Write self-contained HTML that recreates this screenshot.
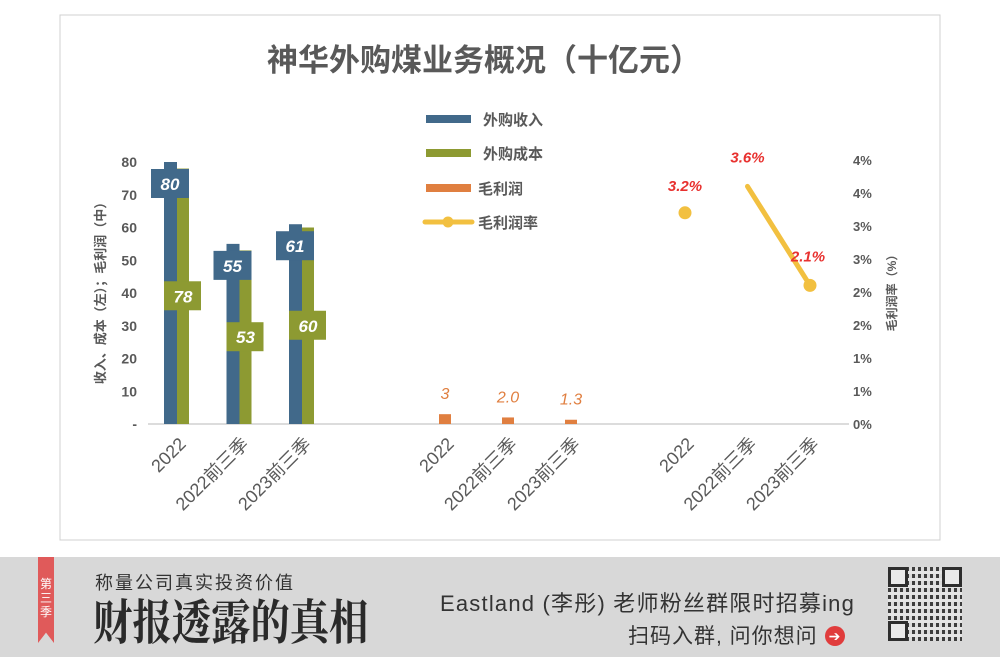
<!DOCTYPE html>
<html><head><meta charset="utf-8"><style>
body{margin:0;width:1000px;height:657px;overflow:hidden;background:#fff;font-family:"Liberation Sans","Noto Sans CJK SC",sans-serif;}
svg text{font-family:"Liberation Sans","Noto Sans CJK SC",sans-serif;}
</style></head><body>
<svg id="c" width="1000" height="657">
<rect x="0" y="0" width="1000" height="657" fill="#fff"/>
<rect x="60" y="15" width="880" height="525" fill="#fff" stroke="#d0d0d0" stroke-width="1"/>
<text x="484" y="71" text-anchor="middle" font-size="31" font-weight="bold" fill="#595959">神华外购煤业务概况（十亿元）</text>
<g>
<rect x="426" y="115" width="45" height="8" fill="#41698a"/>
<text x="483" y="125" font-size="15" font-weight="bold" fill="#595959">外购收入</text>
<rect x="426" y="149" width="45" height="8" fill="#8d9a32"/>
<text x="483" y="159" font-size="15" font-weight="bold" fill="#595959">外购成本</text>
<rect x="426" y="184" width="45" height="8" fill="#e07f40"/>
<text x="478" y="194" font-size="15" font-weight="bold" fill="#595959">毛利润</text>
<line x1="425" y1="222" x2="472" y2="222" stroke="#f2c040" stroke-width="5" stroke-linecap="round"/>
<circle cx="448" cy="222" r="5.5" fill="#f2c040"/>
<text x="478" y="228" font-size="15" font-weight="bold" fill="#595959">毛利润率</text>
</g>
<text transform="translate(105,290) rotate(-90)" text-anchor="middle" font-size="13" font-weight="bold" fill="#595959">收入、成本（左）；毛利润（中）</text>
<text transform="translate(896,290) rotate(-90)" text-anchor="middle" font-size="12" font-weight="bold" fill="#595959">毛利润率（%）</text>
<g id="g"></g>
</svg>
<div style="position:absolute;left:0;top:557px;width:1000px;height:100px;background:#d8d8d8;">
<div style="position:absolute;left:38px;top:0;width:16px;height:86px;background:#e05a5a;clip-path:polygon(0 0,100% 0,100% 100%,50% 88%,0 100%);color:#fff;font-size:12px;line-height:14px;text-align:center;padding-top:20px;box-sizing:border-box;">第<br>三<br>季</div>
<div style="position:absolute;left:95px;top:12px;font-size:18px;color:#333;letter-spacing:2px;">称量公司真实投资价值</div>
<div style="position:absolute;left:93px;top:34px;font-size:48px;font-weight:bold;color:#2a2a2a;font-family:'Noto Serif CJK SC',serif;line-height:56px;transform:scaleX(0.82);transform-origin:left;">财报透露的真相</div>
<div style="position:absolute;left:440px;top:29px;font-size:22px;color:#333;letter-spacing:1.2px;">Eastland (李彤) 老师粉丝群限时招募ing</div>
<div style="position:absolute;left:628px;top:63px;font-size:21px;color:#333;letter-spacing:1px;">扫码入群, 问你想问 <span style="display:inline-block;width:20px;height:20px;border-radius:50%;background:#e03c3c;color:#fff;font-size:14px;line-height:20px;text-align:center;vertical-align:2px;letter-spacing:0;">➔</span></div>
<div style="position:absolute;left:888px;top:10px;width:74px;height:74px;background:repeating-linear-gradient(90deg,#222 0 3px,#ddd 3px 6px),#ddd;opacity:0.85;">
<div style="position:absolute;inset:0;background:repeating-linear-gradient(0deg,transparent 0 4px,#e8e8e8 4px 7px);"></div>
<div style="position:absolute;left:0;top:0;width:14px;height:14px;border:3px solid #111;background:#eee"></div>
<div style="position:absolute;right:0;top:0;width:14px;height:14px;border:3px solid #111;background:#eee"></div>
<div style="position:absolute;left:0;bottom:0;width:14px;height:14px;border:3px solid #111;background:#eee"></div>
</div>
</div>
<script>
const categories=["2022","2022前三季","2023前三季"];
const revenue=[80,55,61];
const cost=[78,53,60];
const profit=[3,2.0,1.3];
const profitLabels=["3","2.0","1.3"];
const margin=[3.2,3.6,2.1];
const leftTicks=["-","10","20","30","40","50","60","70","80"];
const rightTicks=["0%","1%","1%","2%","2%","3%","3%","4%","4%"];
const NS="http://www.w3.org/2000/svg";
const g=document.getElementById('g');
const base=424;
const yL=v=>base-v*3.275;
const yR=v=>base-v*66;
const x1=i=>177+i*62.5, x2=i=>445+i*63, x3=i=>685+i*62.5;
function mk(t,a,txt){const e=document.createElementNS(NS,t);for(const k in a)e.setAttribute(k,a[k]);if(txt!=null)e.textContent=txt;g.appendChild(e);return e;}
let e;
e=mk('line',{x1:148,y1:base,x2:849,y2:base,stroke:'#d0d0d0','stroke-width':1.5});


leftTicks.forEach((t,i)=>{e=mk('text',{x:137,y:yL(i*10)+5,'text-anchor':'end','font-size':14,'font-weight':'bold',fill:'#595959'},t);

});
rightTicks.forEach((t,i)=>{e=mk('text',{x:853,y:yR(i*0.5)+5,'font-size':13,'font-weight':'bold',fill:'#595959'},t);

});
const xs=[x1,x2,x3];
xs.forEach(fx=>categories.forEach((c,i)=>{e=mk('text',{transform:`translate(${fx(i)+10},445) rotate(-45)`,'text-anchor':'end','font-size':18,fill:'#595959'},c);

}));
categories.forEach((c,i)=>{
 const cx=x1(i);
 e=mk('rect',{x:cx-13,y:yL(revenue[i]),width:13,height:base-yL(revenue[i]),fill:'#41698a'});
 
 
 e=mk('rect',{x:cx,y:yL(cost[i]),width:12,height:base-yL(cost[i]),fill:'#8d9a32'});
 
 
 const ry=yL(revenue[i])+7;
 e=mk('rect',{x:cx-26,y:ry,width:38,height:29,fill:'#41698a'});
 
 
 e=mk('text',{x:cx-7,y:ry+21,'text-anchor':'middle','font-size':17,'font-weight':'bold','font-style':'italic',fill:'#fff'},String(revenue[i]));
 
 
 const cyb=yL(cost[i]/2)-15;
 e=mk('rect',{x:cx-13,y:cyb,width:37,height:29,fill:'#8d9a32'});
 
 
 e=mk('text',{x:cx+6,y:cyb+21,'text-anchor':'middle','font-size':17,'font-weight':'bold','font-style':'italic',fill:'#fff'},String(cost[i]));
 
 
 const px=x2(i);
 e=mk('rect',{x:px-6,y:yL(profit[i]),width:12,height:base-yL(profit[i]),fill:'#e07f40'});
 
 
 e=mk('text',{x:px,y:yL(profit[i])-15,'text-anchor':'middle','font-size':16,'font-style':'italic',fill:'#e07f40'},profitLabels[i]);
 
 
});
e=mk('line',{x1:x3(1),y1:yR(margin[1]),x2:x3(2),y2:yR(margin[2]),stroke:'#f2c040','stroke-width':5,'stroke-linecap':'round'});


[0,2].forEach(i=>{e=mk('circle',{cx:x3(i),cy:yR(margin[i]),r:6.5,fill:'#f2c040'});

});
const lo=[[0,-22],[0,-24],[-2,-24]];
margin.forEach((m,i)=>{e=mk('text',{x:x3(i)+lo[i][0],y:yR(m)+lo[i][1],'text-anchor':'middle','font-size':15,'font-weight':'bold','font-style':'italic',fill:'#e8312f'},m.toFixed(1)+'%');

});
</script>
</body></html>
